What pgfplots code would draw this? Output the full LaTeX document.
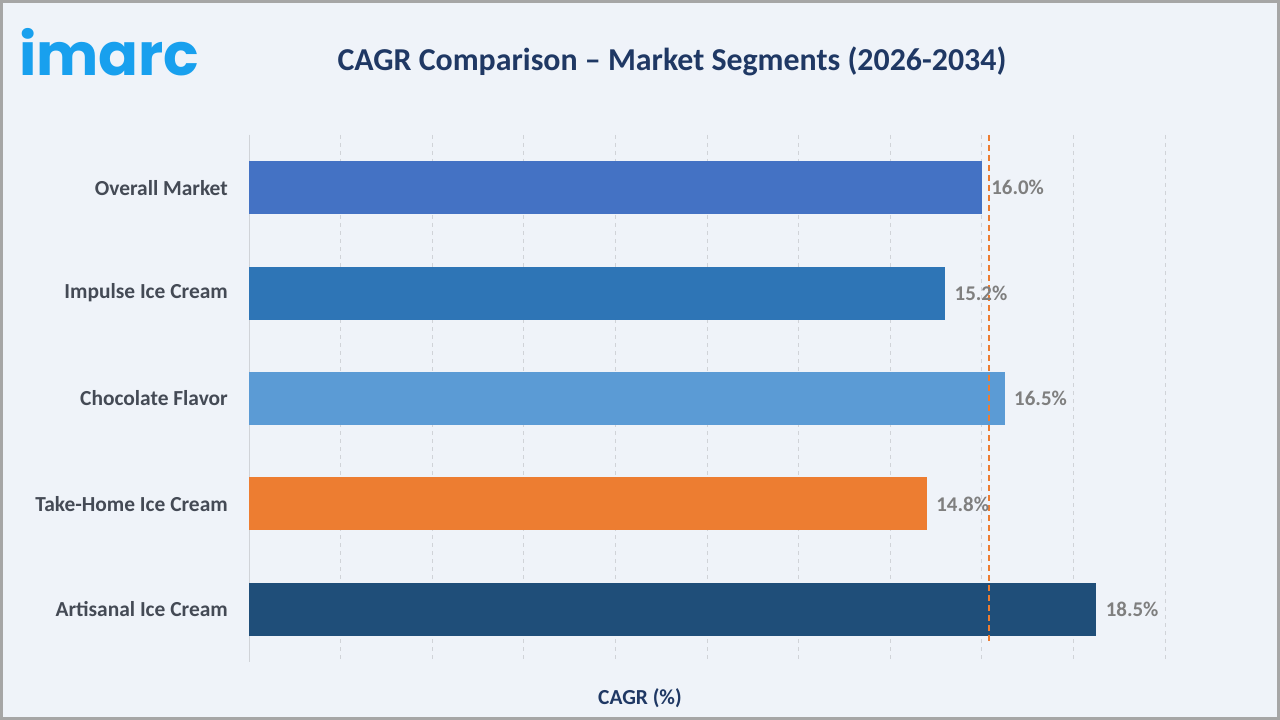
\documentclass[border=0pt]{standalone}
\usepackage{pgfplots}
\pgfplotsset{compat=1.18}
\usepackage{fontspec}
\setmainfont{Carlito}
\newfontfamily\logofont{Poppins}
\definecolor{bgc}{HTML}{EFF3F9}
\definecolor{bordc}{HTML}{A6A6A6}
\definecolor{titlec}{HTML}{1F3864}
\definecolor{labc}{HTML}{444A55}
\definecolor{valc}{HTML}{7F7F7F}
\definecolor{gridc}{HTML}{D0D3D8}
\definecolor{logoc}{HTML}{18A0EE}
\definecolor{c1}{HTML}{4472C4}
\definecolor{c2}{HTML}{2E75B6}
\definecolor{c3}{HTML}{5B9BD5}
\definecolor{c4}{HTML}{ED7D31}
\definecolor{c5}{HTML}{1F4E79}
\begin{document}
\begin{tikzpicture}[x=1bp,y=1bp]
\fill[bgc] (0,0) rectangle (1280,720);
\draw[bordc,line width=3bp] (1.5,1.5) rectangle (1278.5,718.5);
\node[anchor=base west,inner sep=0pt,text=logoc,font=\logofont\bfseries\fontsize{59}{60}\selectfont] at (19,644) {imarc};
\node[text=titlec,font=\bfseries\fontsize{32}{36}\selectfont] at (672,659) {CAGR Comparison – Market Segments (2026-2034)};
\node[text=titlec,font=\bfseries\fontsize{21.5}{24}\selectfont] at (640,22) {CAGR (\%)};
\begin{axis}[
  at={(249bp,58bp)}, anchor=south west,
  scale only axis, width=916bp, height=527bp,
  xmin=0, xmax=20, ymin=-0.5, ymax=4.5,
  y dir=reverse,
  xtick={0,2,...,20}, xticklabels={},
  ytick={0,1,2,3,4},
  yticklabels={Overall Market,Impulse Ice Cream,Chocolate Flavor,Take-Home Ice Cream,Artisanal Ice Cream},
  major tick length=0pt,
  yticklabel style={font=\bfseries\fontsize{21.5}{24}\selectfont, text=labc, inner sep=0pt, xshift=-21bp},
  xmajorgrids, major grid style={gridc, line width=1bp, dash pattern=on 4bp off 4bp},
  axis line style={draw=none},
  /pgf/number format/assume math mode=true,
  clip=false,
]
\draw[gridc, line width=1bp] (axis cs:0,-0.5) -- (axis cs:0,4.5);
\pgfplotsset{barstyle/.style={xbar, bar width=53bp, bar shift=0pt, draw=none, fill=#1,
  point meta=x,
  nodes near coords={\pgfmathprintnumber[fixed,fixed zerofill,precision=1]{\pgfplotspointmeta}\%},
  nodes near coords style={anchor=west, xshift=6bp, text=valc, font=\bfseries\fontsize{21}{24}\selectfont}}}
\addplot[barstyle=c1] coordinates {(16.0,0)};
\addplot[barstyle=c2] coordinates {(15.2,1)};
\addplot[barstyle=c3] coordinates {(16.5,2)};
\addplot[barstyle=c4] coordinates {(14.8,3)};
\addplot[barstyle=c5] coordinates {(18.5,4)};
\addplot[c4, line width=2bp, dash pattern=on 6bp off 4bp] coordinates {(16.15,-0.5) (16.15,4.31)};
\end{axis}
\end{tikzpicture}
\end{document}
